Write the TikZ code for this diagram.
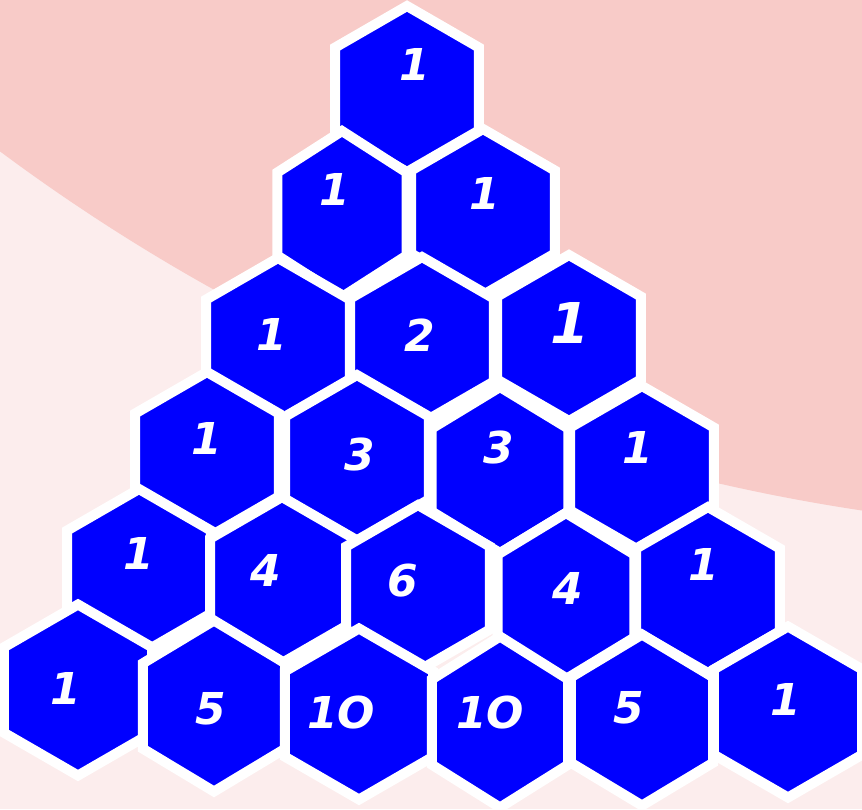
\documentclass[tikz,border=0pt]{standalone}
\usepackage{xcolor}
\usepackage{fontspec}
\usepackage{tikz}
\usetikzlibrary{shapes.geometric}
\newfontfamily\numfont{DejaVu Sans}
\definecolor{bglight}{HTML}{FCEDED}
\definecolor{bgsalmon}{HTML}{F8CBC8}

\begin{document}
\begin{tikzpicture}[x=0.02cm, y=-0.02cm,
    hexcell/.style={regular polygon, regular polygon sides=6, shape border rotate=30,
        minimum size=3.32cm, inner sep=0pt, fill=blue, draw=white, line width=0.2cm},
    bighex/.style={hexcell, minimum size=3.42cm},
    num/.style={text=white, inner sep=0pt, font=\numfont\fontsize{25}{25}\selectfont\bfseries\itshape}]
    \useasboundingbox (0, 0) rectangle (862, 809);
    % background
    \fill[bglight] (0, 0) rectangle (862, 809);
    \begin{scope}
        \clip (0, 0) rectangle (862, 809);
        \fill[bgsalmon] (1151, -1398) circle[radius=1930];
    \end{scope}

    % row 0
    \node[hexcell] (h00) at (407, 89) {};
    \node[num] (n00) at (415, 64) {1};
    % row 1
    \node[hexcell, xscale=0.9] (h10) at (342, 214) {};
    \node[num] (n10) at (335, 189) {1};
    \node[hexcell] (h11) at (483, 212) {};
    \node[num] (n11) at (485, 193) {1};
    % row 2
    \node[hexcell] (h20) at (278, 341) {};
    \node[num] (n20) at (272, 334) {1};
    \node[hexcell] (h21) at (422, 340) {};
    \node[num] (n21) at (420, 335) {2};
    \node[hexcell] (h22) at (569, 338) {};
    \node[num, font=\numfont\fontsize{32}{32}\selectfont\bfseries\itshape] (n22) at (570, 323) {1};
    % row 3
    \node[hexcell] (h30) at (207, 455) {};
    \node[num] (n30) at (207, 438) {1};
    \node[hexcell] (h31) at (357, 458) {};
    \node[num] (n31) at (360, 454) {3};
    \node[hexcell, xscale=0.95] (h32) at (500, 470) {};
    \node[num] (n32) at (499, 448) {3};
    \node[hexcell] (h33) at (642, 469) {};
    \node[num] (n33) at (638, 447) {1};
    % row 4
    \node[hexcell] (h40) at (139, 572) {};
    \node[num] (n40) at (139, 553) {1};
    \node[hexcell] (h41) at (282, 580) {};
    \node[num] (n41) at (266, 570) {4};
    \node[hexcell] (h42) at (418, 588) {};
    \node[num] (n42) at (403, 581) {6};
    \node[hexcell, xscale=0.95] (h43) at (566, 596) {};
    \node[num] (n43) at (568, 588) {4};
    \node[hexcell] (h44) at (708, 590) {};
    \node[num] (n44) at (704, 564) {1};
    % row 5
    \node[bighex] (h50) at (78, 690) {};
    \node[num] (n50) at (66, 688) {1};
    \node[bighex, xscale=0.96] (h51) at (214, 706) {};
    \node[num] (n51) at (211, 709) {5};
    \node[bighex] (h52) at (359, 714) {};
    \node[num] (n52) at (341, 712) {1O};
    \node[bighex, xscale=0.92] (h53) at (500, 722) {};
    \node[num] (n53) at (490, 712) {1O};
    \node[bighex, xscale=0.96] (h54) at (642, 720) {};
    \node[num] (n54) at (629, 708) {5};
    \node[bighex] (h55) at (788, 712) {};
    \node[num] (n55) at (786, 699) {1};
\end{tikzpicture}
\end{document}
